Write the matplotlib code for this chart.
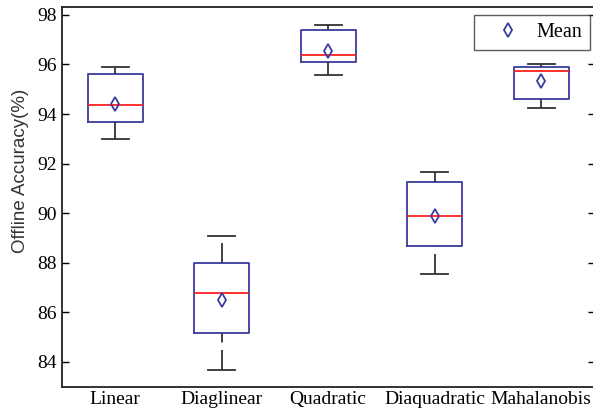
import matplotlib
matplotlib.use('Agg')
import matplotlib.pyplot as plt
from matplotlib.lines import Line2D

# values
labels = ['Linear', 'Diaglinear', 'Quadratic', 'Diaquadratic', 'Mahalanobis']
q1 = [93.69, 85.17, 96.10, 88.66, 94.59]
q3 = [95.60, 87.97, 97.39, 91.25, 95.90]
med = [94.37, 86.76, 96.38, 89.87, 95.72]
mean = [94.41, 86.49, 96.55, 89.90, 95.33]
whislo = [92.98, 83.66, 95.56, 87.54, 94.25]
whishi = [95.91, 89.06, 97.60, 91.64, 96.00]
yticks = [84, 86, 88, 90, 92, 94, 96, 98]

plt.rcParams['lines.scale_dashes'] = False

stats = []
for i in range(len(labels)):
    stats.append(dict(label=labels[i], q1=q1[i], q3=q3[i], med=med[i], mean=mean[i],
                      whislo=whislo[i], whishi=whishi[i], fliers=[]))

blue = '#3c3ca0'
dark = '#333333'

fig = plt.figure(figsize=(5.93, 4.13), dpi=100)
ax = fig.add_axes([62/593, 1-387/413, 532.5/593, 380/413])

bp = ax.bxp(stats, positions=range(1, 6), widths=0.52, capwidths=0.25,
            showmeans=True, showfliers=False,
            boxprops=dict(color=blue, linewidth=1.3),
            medianprops=dict(color='#ff2020', linewidth=1.3),
            whiskerprops=dict(color=dark, linewidth=1.3, linestyle=(0, (14.4, 5.4))),
            capprops=dict(color=dark, linewidth=1.3),
            meanprops=dict(marker='d', markerfacecolor='none', markeredgecolor=blue,
                           markeredgewidth=1.3, markersize=6.8))

# matlab draws whiskers upwards, so flip the lower ones so the dashes start at the cap
for k, w in enumerate(bp['whiskers']):
    if k % 2 == 0:
        w.set_ydata(w.get_ydata()[::-1])

ax.set_xlim(0.5, 5.5)
ax.set_ylim(82.98, 98.32)
ax.set_yticks(yticks)
ax.set_xticks(range(1, 6))
ax.set_xticklabels(labels, family='Liberation Serif', fontsize=14)
ax.set_yticklabels([str(t) for t in yticks], family='Liberation Serif', fontsize=14)
ax.tick_params(axis='y', direction='in', left=True, right=True, length=5, width=1, pad=3.5, colors='black')
ax.tick_params(axis='x', length=0, pad=3)
for s in ax.spines.values():
    s.set_linewidth(1.3)
    s.set_color('#222222')

ax.set_ylabel('Offline Accuracy(%)', family='Liberation Sans', fontsize=13.5, color='#333333')
ax.yaxis.set_label_coords(-0.062, 0.568)

h = Line2D([], [], linestyle='none', marker='d', markerfacecolor='none', markeredgecolor=blue,
           markeredgewidth=1.3, markersize=6.8)
leg = ax.legend([h], ['Mean'], loc='upper right', bbox_to_anchor=(0.9915, 0.979), borderaxespad=0,
                prop=dict(family='Liberation Serif', size=14.5), fancybox=False, handlelength=2.6,
                handletextpad=0.1, borderpad=0.4)
leg.get_frame().set_edgecolor('#333333')
leg.get_frame().set_linewidth(1.0)

fig.savefig('out.png', dpi=100, facecolor='white')
